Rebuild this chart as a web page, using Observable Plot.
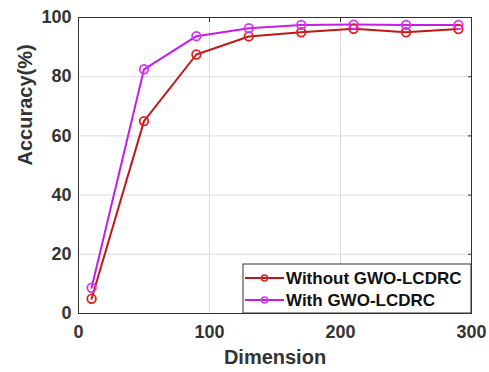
<!DOCTYPE html>
<html><head><meta charset="utf-8">
<script src="https://cdn.jsdelivr.net/npm/d3@7"></script>
<script src="https://cdn.jsdelivr.net/npm/@observablehq/plot@0.6"></script>
<style>body{margin:0;background:#fff;} svg{font-family:Arial,"Liberation Sans",sans-serif;}</style>
</head><body><div id="chart"></div>
<script>
const dimensions = [10, 50, 90, 130, 170, 210, 250, 290];
const withoutGWO = [5, 65, 87.5, 93.6, 95, 96.2, 95, 96.1];
const withGWO = [8.7, 82.5, 93.7, 96.4, 97.5, 97.6, 97.5, 97.5];
const seriesNames = ["Without GWO-LCDRC", "With GWO-LCDRC"];
const lineColors = ["#c01818", "#c41ee6"];
const markerColors = ["#e02020", "#dd30ff"];
const xTicks = [0, 100, 200, 300];
const yTicks = [0, 20, 40, 60, 80, 100];

const data = [
  ...dimensions.map((d, i) => ({x: d, y: withoutGWO[i], s: seriesNames[0]})),
  ...dimensions.map((d, i) => ({x: d, y: withGWO[i], s: seriesNames[1]}))
];
const legendRows = seriesNames.map((s, i) => ({s, row: i}));
const lineColor = s => lineColors[seriesNames.indexOf(s)];
const markerColor = s => markerColors[seriesNames.indexOf(s)];

const W = 489, H = 372;
const plot = Plot.plot({
  width: W, height: H,
  marginLeft: 78, marginRight: 18, marginTop: 17, marginBottom: 59,
  style: {fontFamily: "Arial, 'Liberation Sans', sans-serif", background: "#fff"},
  x: {type: "linear", domain: [0, 300], ticks: xTicks, label: null},
  y: {type: "linear", domain: [0, 100], ticks: yTicks, label: null},
  marks: [
    Plot.gridX(xTicks, {stroke: "#dcdcdc", strokeOpacity: 1}),
    Plot.gridY(yTicks, {stroke: "#dcdcdc", strokeOpacity: 1}),
    Plot.frame({stroke: "#333", strokeWidth: 1}),
    Plot.axisX({anchor: "top", ticks: xTicks, tickSize: -4, tickFormat: () => "", stroke: "#333", label: null}),
    Plot.axisX({ticks: xTicks, tickSize: 0, tickPadding: 12, fontSize: 18, fontWeight: "bold", fill: "#333", label: null}),
    Plot.axisY({ticks: yTicks, tickSize: 0, tickPadding: 7, fontSize: 18, fontWeight: "bold", fill: "#333", label: null}),
    Plot.axisY({anchor: "right", ticks: yTicks, tickSize: -4, tickFormat: () => "", stroke: "#333", label: null}),
    Plot.line(data, {x: "x", y: "y", z: "s", stroke: d => lineColor(d.s), strokeWidth: 2}),
    Plot.dot(data, {x: "x", y: "y", stroke: d => markerColor(d.s), r: 4.3, strokeWidth: 1.8, fill: "none"}),
    Plot.text(["Dimension"], {frameAnchor: "bottom", dy: 50, fontSize: 20, fontWeight: "bold", fill: "#333"}),
    Plot.text(["Accuracy(%)"], {frameAnchor: "left", dx: -53, rotate: -90, fontSize: 20, fontWeight: "bold", fill: "#333"})
  ]
});
document.getElementById("chart").appendChild(plot);

// Legend box
const svg = d3.select(plot);
const lx = 243, ly = 264, lw = 228, lh = 49;
const g = svg.append("g").attr("text-anchor", "start");
g.append("rect").attr("x", lx).attr("y", ly).attr("width", lw).attr("height", lh)
  .attr("fill", "#fff").attr("stroke", "#333").attr("stroke-width", 1);
legendRows.forEach(r => {
  const cy = ly + 14 + r.row * 22;
  g.append("line").attr("x1", lx + 2).attr("x2", lx + 41).attr("y1", cy).attr("y2", cy)
    .attr("stroke", lineColors[r.row]).attr("stroke-width", 2);
  g.append("circle").attr("cx", lx + 21.5).attr("cy", cy).attr("r", 3)
    .attr("fill", "none").attr("stroke", markerColors[r.row]).attr("stroke-width", 1.6);
  g.append("text").attr("x", lx + 43).attr("y", cy).attr("dy", "0.36em").attr("text-anchor", "start")
    .attr("font-size", 17).attr("font-weight", "bold").attr("fill", "#111").text(r.s);
});
</script></body></html>
